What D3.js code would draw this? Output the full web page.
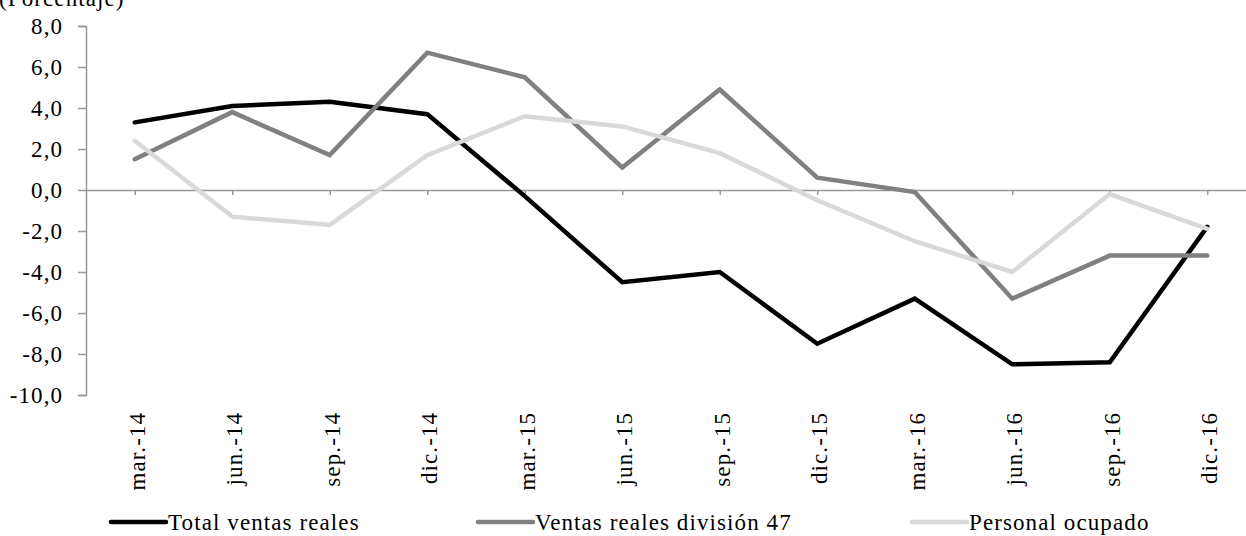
<!DOCTYPE html>
<html><head><meta charset="utf-8">
<script src="https://cdn.jsdelivr.net/npm/d3@7"></script>
<style>
html,body{margin:0;padding:0;background:#fff;}
svg{display:block;}
svg text{font-family:"Liberation Serif","Times New Roman",Tinos,"DejaVu Serif",serif !important;letter-spacing:1.1px;}
</style></head>
<body><svg id="c" width="1246" height="536"></svg>
<script>
const categories = ["mar.-14","jun.-14","sep.-14","dic.-14","mar.-15","jun.-15","sep.-15","dic.-15","mar.-16","jun.-16","sep.-16","dic.-16"];
const totalVentas = [3.3,4.1,4.3,3.7,-0.3,-4.5,-4.0,-7.5,-5.3,-8.5,-8.4,-1.8];
const ventasDiv47 = [1.5,3.8,1.7,6.7,5.5,1.1,4.9,0.6,-0.1,-5.3,-3.2,-3.2];
const personal = [2.4,-1.3,-1.7,1.7,3.6,3.1,1.8,-0.5,-2.5,-4.0,-0.2,-1.9];
const yTicks = [8,6,4,2,0,-2,-4,-6,-8,-10];
const seriesNames = ["Total ventas reales","Ventas reales división 47","Personal ocupado"];
const seriesColors = ["#000000","#808080","#d9d9d9"];

const svg = d3.select("#c");
const x = d3.scalePoint().domain(categories).range([86,1256]).padding(0.5);
const y = d3.scaleLinear().domain([-10,8]).range([395,26]);
const fmt = v => d3.format(".1f")(v).replace(".",",").replace("−","-");
const axisColor = "#999999";
const FS = 23;

svg.append("text").attr("x",-1).attr("y",6).attr("font-size",FS).text("(Porcentaje)");

// Y axis
const ya = svg.append("g").attr("transform","translate(86,0)")
  .call(d3.axisLeft(y).tickValues(yTicks).tickSize(8).tickPadding(14.9).tickFormat(fmt));
ya.selectAll("path,line").attr("stroke",axisColor).attr("stroke-width",1.5);
ya.selectAll("text").attr("font-size",FS).attr("fill","#000");

// X axis at zero
const xa = svg.append("g").attr("transform",`translate(0,${y(0)})`)
  .call(d3.axisBottom(x).tickSize(5).tickSizeOuter(0).tickFormat(""));
xa.select("path").attr("stroke",axisColor).attr("stroke-width",1.5);
xa.selectAll("line").attr("stroke",axisColor).attr("stroke-width",1.5);

// X labels rotated
svg.append("g").selectAll("text").data(categories).join("text")
  .attr("transform",d=>`translate(${x(d)+10},411.9) rotate(-90)`)
  .attr("text-anchor","end").attr("font-size",FS).text(d=>d);

const line = d3.line().x((d,i)=>x(categories[i])).y(d=>y(d));
[totalVentas,ventasDiv47,personal].forEach((s,k)=>{
  svg.append("path").datum(s).attr("d",line).attr("fill","none")
    .attr("stroke",seriesColors[k]).attr("stroke-width",4.5)
    .attr("stroke-linejoin","miter").attr("stroke-linecap","round");
});

// Legend
const legX = [111,478,912];
seriesNames.forEach((n,k)=>{
  svg.append("line").attr("x1",legX[k]).attr("x2",legX[k]+55).attr("y1",522).attr("y2",522)
    .attr("stroke",seriesColors[k]).attr("stroke-width",4.5).attr("stroke-linecap","round");
  svg.append("text").attr("x",legX[k]+57).attr("y",530).attr("font-size",FS).text(n);
});
</script></body></html>
